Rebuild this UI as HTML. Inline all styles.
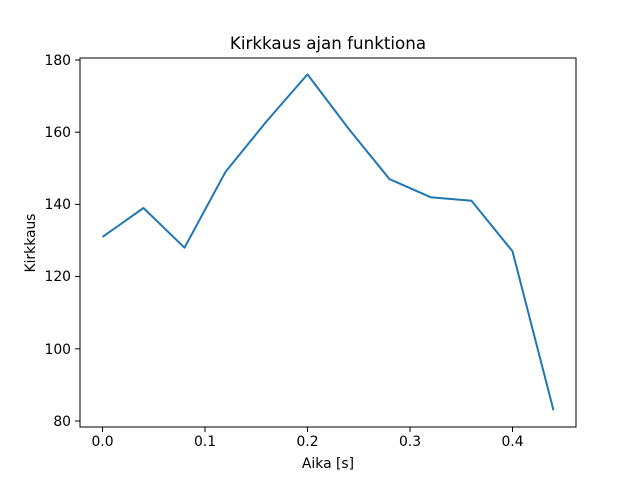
<!DOCTYPE html>
<html><head><meta charset="utf-8"><style>body{margin:0;background:#fff}</style></head><body>
<svg width="640" height="480" xmlns="http://www.w3.org/2000/svg" font-family="DejaVu Sans, Liberation Sans, sans-serif" font-size="13.9px">
<rect width="640" height="480" fill="#fff"/>
<polyline fill="none" stroke="#1f77b4" stroke-width="2" stroke-linejoin="round" points="102.5,236.9 143.5,208 184.5,247.7 225.5,171.9 266.5,121.4 307.5,74.4 348.5,128.6 389.5,179.1 430.5,197.2 471.5,200.8 512.5,251.3 553.5,410.2"/>
<rect x="80" y="58" width="496" height="369" fill="none" stroke="#000" stroke-width="1"/>
<g stroke="#000" stroke-width="1">
<line x1="102.5" y1="427" x2="102.5" y2="432"/><line x1="205" y1="427" x2="205" y2="432"/><line x1="307.5" y1="427" x2="307.5" y2="432"/><line x1="410" y1="427" x2="410" y2="432"/><line x1="512.5" y1="427" x2="512.5" y2="432"/>
<line x1="75" y1="60" x2="80" y2="60"/><line x1="75" y1="132.2" x2="80" y2="132.2"/><line x1="75" y1="204.4" x2="80" y2="204.4"/><line x1="75" y1="276.6" x2="80" y2="276.6"/><line x1="75" y1="348.8" x2="80" y2="348.8"/><line x1="75" y1="421" x2="80" y2="421"/>
</g>
<g text-anchor="middle">
<text x="102.5" y="446">0.0</text><text x="205" y="446">0.1</text><text x="307.5" y="446">0.2</text><text x="410" y="446">0.3</text><text x="512.5" y="446">0.4</text>
<text x="328" y="468">Aika [s]</text>
<text x="328" y="49" font-size="16.7">Kirkkaus ajan funktiona</text>
</g>
<g text-anchor="end">
<text x="71" y="65">180</text><text x="71" y="137">160</text><text x="71" y="209">140</text><text x="71" y="281">120</text><text x="71" y="354">100</text><text x="71" y="426">80</text>
</g>
<text transform="translate(35,243) rotate(-90)" text-anchor="middle">Kirkkaus</text>
</svg>
</body></html>
